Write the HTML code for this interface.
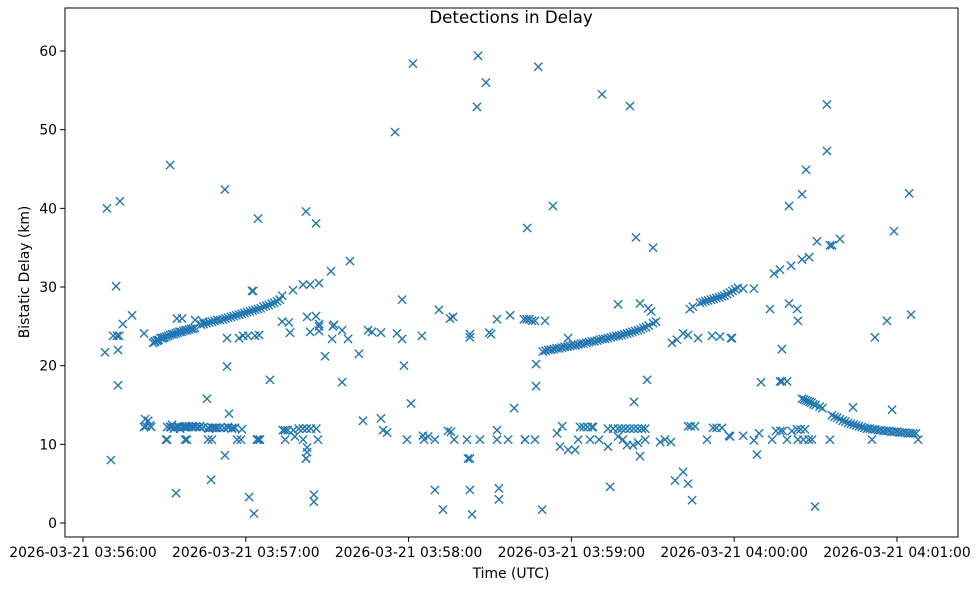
<!DOCTYPE html>
<html><head><meta charset="utf-8"><style>
html,body{margin:0;padding:0;background:#fff;}
svg{display:block;font-family:"DejaVu Sans","Liberation Sans",sans-serif;}
</style></head><body>
<svg id="chart" width="979" height="590" xmlns="http://www.w3.org/2000/svg">
<rect x="0" y="0" width="979" height="590" fill="#fff"/>
<text x="511" y="23" font-size="16.7" text-anchor="middle" fill="#000">Detections in Delay</text>
<text x="511" y="578" font-size="13.9" text-anchor="middle" fill="#000">Time (UTC)</text>
<text x="0" y="0" font-size="13.9" text-anchor="middle" fill="#000" transform="translate(29,272) rotate(-90)">Bistatic Delay (km)</text>
<g id="marks"></g>
<g id="axes"></g>
</svg>
<script>
// seconds after 2026-03-21 03:56:00 UTC
const timeS = [
8.1,8.8,10.3,11.1,12.2,12.5,12.9,12.9,13.3,13.6,14.7,18.1,22.5,23.2,24.0,24.7,26.5,27.6,29.5,30.6,32.1,32.1,32.8,33.5,34.3,34.6,35.0,36.5,37.6,35.8,38.0,39.1,40.2,41.3,41.7,43.1,44.2,45.7,46.4,47.2,47.5,47.9,48.7,49.4,50.5,52.3,52.3,53.1,53.1,53.4,53.8,54.9,56.8,57.5,59.0,60.8,61.2,62.3,63.0,63.4,64.1,64.5,64.9,65.2,68.9,
22.9,25.1,22.5,35.0,37.6,38.0,40.5,62.7,73.4,74.5,75.9,76.3,77.4,81.1,56.0,46.1,
25.8,26.5,27.2,27.9,28.6,29.3,30.0,30.7,31.4,32.1,32.8,33.5,34.2,34.9,35.6,36.3,37.0,37.7,38.4,39.1,39.8,40.5,41.2,
43.5,44.5,45.5,46.5,47.5,48.5,49.5,50.5,51.5,52.5,53.5,54.5,55.5,56.5,57.5,58.5,59.5,60.5,61.5,62.5,63.5,64.5,65.5,66.5,67.5,68.5,69.5,70.5,71.5,72.5,73.4,
31.0,32.5,34.0,35.5,37.0,38.5,40.0,41.5,43.0,44.5,46.1,47.5,49.0,50.5,52.0,53.5,55.0,56.0,58.6,31.0,38.3,46.1,58.2,64.5,65.2,
73.7,75.5,77.5,79.5,81.0,82.5,84.0,86.0,74.5,78.1,81.1,82.2,82.6,
82.2,85.9,83.7,87.0,87.0,91.4,98.4,82.6,85.9,83.7,87.0,87.0,92.1,95.5,97.7,91.8,92.5,105.1,106.5,109.8,115.7,117.6,117.6,124.9,131.2,135.3,136.4,142.6,142.6,149.7,157.4,152.6,163.7,150.4,
89.2,101.7,95.5,118.3,120.9,158.9,
86.6,82.6,82.2,103.2,109.8,110.6,112.1,119.4,125.3,127.2,125.7,129.7,134.5,135.6,136.8,141.5,146.3,152.6,152.6,156.7,162.9,141.9,142.6,85.1,85.1,129.7,132.7,142.6,143.4,153.3,153.3,
115.0,121.6,145.6,145.2,148.5,167.8,201.6,191.3,
173.2,203.8,210.1,162.5,163.5,164.5,165.5,166.6,170.3,
169.5,170.5,171.5,172.5,173.5,174.5,175.5,176.5,177.5,178.5,179.5,180.5,181.5,182.5,183.5,184.5,185.5,186.5,187.5,188.5,189.5,190.5,191.5,192.5,193.5,194.5,195.5,196.5,197.5,198.5,199.5,200.5,201.5,202.5,203.5,204.5,205.5,206.5,207.5,208.5,210.1,
178.8,167.0,167.0,197.2,205.3,208.3,209.4,211.2,207.9,203.1,223.7,224.8,
227.4,228.4,229.4,230.4,231.4,232.4,233.4,234.4,235.4,236.4,237.4,238.4,239.4,240.4,241.4,
217.1,218.9,221.2,223.0,226.7,231.8,234.8,238.8,
162.9,166.6,174.7,176.6,175.8,178.8,181.4,183.2,184.5,186.0,187.5,188.0,182.5,186.9,190.2,193.5,195.4,193.5,197.2,198.5,200.0,201.5,203.0,204.5,206.0,207.2,197.2,199.0,200.5,202.7,204.6,207.2,205.3,212.7,214.5,216.7,223.0,224.0,225.6,230.0,232.2,233.5,235.5,238.1,
194.3,169.2,218.2,221.2,223.0,224.5,
266.5,265.0,260.2,304.5,298.9,270.5,274.2,275.3,276.1,279.0,254.7,256.9,261.0,265.0,267.6,243.3,247.3,253.2,260.2,263.2,263.5,239.2,291.9,296.3,305.2,257.6,249.9,256.9,257.6,259.5,274.2,
265.0,265.7,266.4,267.1,267.8,268.5,269.2,270.0,271.5,272.5,
276,277,278,279,280,281,282,283,284,285,286,287,288,289,290,291,292,293,294,295,296,297,298,299,300,301,302,303,304,305,306,307,
283.8,298.2,
238.5,243.3,247.3,249.2,248.4,254.0,255.4,257.0,258.0,259.5,261.3,263.2,264.5,266.1,263.5,265.5,267.5,268.7,275.3,290.8,307.8,269.8
];
const delayKm = [
21.7,40.0,8.0,23.8,30.1,23.8,22.0,17.5,23.8,40.9,25.3,26.4,24.1,12.3,13.0,12.4,23.0,23.2,23.5,10.6,45.5,12.2,12.5,12.0,3.8,26.0,12.3,26.0,10.6,12.0,12.3,12.3,12.3,25.8,12.3,12.3,25.6,15.8,12.0,5.5,10.6,12.1,12.1,12.1,12.1,42.4,8.6,23.5,19.9,12.2,13.9,12.0,10.6,23.5,23.8,23.8,3.3,29.5,1.2,23.8,10.6,38.7,23.9,10.6,18.2,
13.2,12.2,12.2,12.2,12.2,12.2,12.2,29.5,25.6,11.8,25.5,24.2,29.6,30.3,12.1,12.1,
22.9,23.1,23.2,23.3,23.5,23.5,23.6,23.7,23.8,23.9,24.0,24.0,24.1,24.2,24.3,24.3,24.4,24.5,24.5,24.6,24.7,24.7,24.8,
25.2,25.3,25.4,25.5,25.6,25.7,25.8,25.8,25.9,26.0,26.1,26.2,26.3,26.4,26.5,26.6,26.7,26.8,26.9,27.0,27.1,27.2,27.3,27.5,27.6,27.7,27.9,28.0,28.2,28.4,28.9,
12.2,12.2,12.2,12.2,12.2,12.2,12.2,12.2,12.2,12.2,12.1,12.1,12.1,12.1,12.1,12.1,12.1,12.1,11.9,10.6,10.6,10.6,10.6,10.6,10.6,
11.8,11.8,11.8,12.0,12.0,12.0,12.0,12.0,10.6,11.0,10.6,8.2,9.6,
39.6,38.1,30.3,30.5,24.4,32.0,33.3,26.2,26.3,24.3,25.3,25.0,25.0,24.5,23.4,23.4,25.2,24.5,24.3,24.2,24.1,23.4,28.4,23.8,27.1,26.0,26.2,23.6,24.0,24.2,26.4,25.9,37.5,24.0,
21.2,21.5,17.9,20.0,15.2,14.6,
10.6,9.0,8.2,13.0,13.3,11.8,11.5,10.6,11.1,11.0,10.6,10.6,11.7,11.6,10.6,10.6,10.6,11.8,10.6,10.6,10.6,8.2,8.2,3.6,2.7,4.2,1.7,4.2,1.1,4.4,3.0,
49.7,58.4,59.4,52.9,56.0,58.0,53.0,54.5,
40.3,36.3,35.0,25.9,25.9,25.9,25.7,25.7,25.7,
21.8,21.9,22.0,22.0,22.1,22.2,22.2,22.3,22.4,22.4,22.5,22.6,22.6,22.7,22.8,22.8,22.9,23.0,23.1,23.1,23.2,23.3,23.4,23.4,23.5,23.6,23.7,23.8,23.8,23.9,24.0,24.1,24.2,24.3,24.4,24.5,24.6,24.8,24.9,25.1,25.4,
23.5,20.2,17.4,27.8,27.9,27.3,26.9,25.6,18.2,15.4,27.2,27.5,
28.0,28.1,28.2,28.3,28.4,28.5,28.6,28.7,28.8,28.9,29.1,29.3,29.5,29.7,29.9,
22.9,23.3,24.1,23.9,23.5,23.8,23.7,23.5,
10.6,10.6,11.4,12.3,9.7,9.3,9.3,12.2,12.2,12.2,12.2,12.2,10.6,10.6,10.6,9.7,12.0,12.0,12.0,12.0,12.0,12.0,12.0,12.0,12.0,12.0,11.0,10.6,9.9,9.9,10.2,10.6,8.5,10.3,10.6,10.3,12.3,12.3,12.3,10.6,12.1,12.1,12.1,11.1,
4.6,1.7,5.4,6.5,5.0,2.9,
44.9,41.8,40.3,41.9,37.1,35.8,53.2,35.3,35.3,36.1,31.7,32.2,32.7,33.5,33.8,29.8,29.8,27.2,27.9,27.2,25.7,23.5,23.6,25.7,26.5,22.1,17.9,18.0,18.0,18.0,47.3,
15.8,15.7,15.6,15.5,15.4,15.3,15.1,15.0,14.8,14.6,
13.7,13.5,13.4,13.2,13.0,12.9,12.7,12.6,12.5,12.4,12.3,12.2,12.1,12.0,12.0,11.9,11.9,11.8,11.8,11.7,11.7,11.7,11.6,11.6,11.6,11.5,11.5,11.5,11.4,11.4,11.4,11.4,
14.7,14.4,
11.0,11.1,10.5,11.4,8.7,10.6,11.7,11.7,11.7,10.6,11.7,11.9,11.9,11.9,10.6,10.6,10.6,10.6,10.6,10.6,10.6,2.1
];
const yTicks = [0,10,20,30,40,50,60];
const xTickSeconds = [0,60,120,180,240,300];
const xTickLabels = ["2026-03-21 03:56:00","2026-03-21 03:57:00","2026-03-21 03:58:00","2026-03-21 03:59:00","2026-03-21 04:00:00","2026-03-21 04:01:00"];

const L=65,R=958,T=8,B=537;
const X0=-6.64,X1=322.5,Y0=-1.78,Y1=65.47;
function xs(s){return L+(s-X0)/(X1-X0)*(R-L);}
function ys(v){return B-(v-Y0)/(Y1-Y0)*(B-T);}
const NS="http://www.w3.org/2000/svg";
const marks=document.getElementById('marks');
const n=Math.min(timeS.length,delayKm.length);
for(let i=0;i<n;i++){
  const cx=xs(timeS[i]),cy=ys(delayKm[i]),h=4.1;
  const p=document.createElementNS(NS,'path');
  p.setAttribute('d',`M${cx-h},${cy-h}L${cx+h},${cy+h}M${cx-h},${cy+h}L${cx+h},${cy-h}`);
  p.setAttribute('stroke','#1f77b4');
  p.setAttribute('stroke-width','1.4');
  p.setAttribute('fill','none');
  
  
  marks.appendChild(p);
}
const axes=document.getElementById('axes');
const frame=document.createElementNS(NS,'rect');
frame.setAttribute('x',L);frame.setAttribute('y',T);
frame.setAttribute('width',R-L);frame.setAttribute('height',B-T);
frame.setAttribute('fill','none');frame.setAttribute('stroke','#000');frame.setAttribute('stroke-width','1');


axes.appendChild(frame);
yTicks.forEach(v=>{
  const y=ys(v);
  const t=document.createElementNS(NS,'line');
  t.setAttribute('x1',L-4.9);t.setAttribute('x2',L);t.setAttribute('y1',y);t.setAttribute('y2',y);
  t.setAttribute('stroke','#000');t.setAttribute('stroke-width','1');
  
  
  axes.appendChild(t);
  const tx=document.createElementNS(NS,'text');
  tx.setAttribute('x',L-8);tx.setAttribute('y',y+5);
  tx.setAttribute('text-anchor','end');tx.setAttribute('font-size','13.9');
  tx.textContent=v;
  
  
  axes.appendChild(tx);
});
xTickSeconds.forEach((s,i)=>{
  const x=xs(s);
  const t=document.createElementNS(NS,'line');
  t.setAttribute('x1',x);t.setAttribute('x2',x);t.setAttribute('y1',B);t.setAttribute('y2',B+4.9);
  t.setAttribute('stroke','#000');t.setAttribute('stroke-width','1');
  
  
  axes.appendChild(t);
  const tx=document.createElementNS(NS,'text');
  tx.setAttribute('x',x);tx.setAttribute('y',B+20);
  tx.setAttribute('text-anchor','middle');tx.setAttribute('font-size','13.9');
  tx.textContent=xTickLabels[i];
  
  
  axes.appendChild(tx);
});
</script>
</body></html>
